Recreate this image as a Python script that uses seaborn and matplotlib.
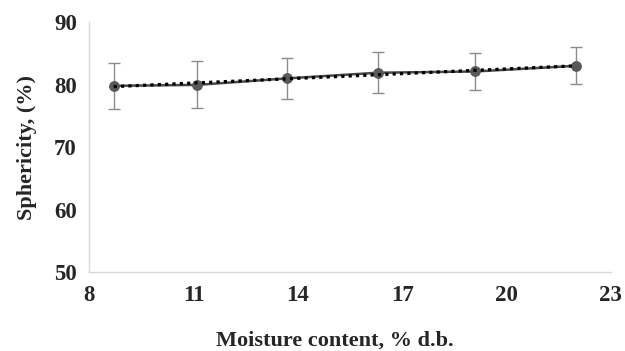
import numpy as np
import pandas as pd
import matplotlib
matplotlib.use('Agg')
import matplotlib.pyplot as plt
import seaborn as sns

# values
moisture = [8.7, 11.1, 13.7, 16.3, 19.1, 22.0]
sphericity = [79.8, 79.95, 81.0, 81.9, 82.1, 83.0]
sd = [3.7, 3.75, 3.25, 3.3, 3.0, 2.95]

df = pd.DataFrame({'moisture': moisture, 'sphericity': sphericity, 'sd': sd})

sns.set_style('white')
plt.rcParams['font.family'] = ['Liberation Serif', 'DejaVu Serif']
plt.rcParams['font.weight'] = 'bold'

fig, ax = plt.subplots(figsize=(6.25, 3.51), dpi=100)
fig.subplots_adjust(left=0.143, right=0.977, bottom=0.225, top=0.937)

ax.errorbar(df.moisture, df.sphericity, yerr=df.sd, fmt='none',
            ecolor='#8c8c8c', elinewidth=1, capsize=4, capthick=1, zorder=2)
sns.lineplot(data=df, x='moisture', y='sphericity', ax=ax, color='#4a4a4a',
             linewidth=1.8, marker='o', markersize=7, markerfacecolor='#595959',
             markeredgecolor='#595959', zorder=3)

# linear trendline (dotted)
k, b = np.polyfit(df.moisture, df.sphericity, 1)
xs = np.array([df.moisture.min(), df.moisture.max()])
ax.plot(xs, k * xs + b, color='black', linestyle=(0, (1, 1.3)), linewidth=2.3, zorder=4)

ax.set_xlim(8, 23)
ax.set_ylim(50, 90)
ax.set_xticks([8, 11, 14, 17, 20, 23])
ax.set_yticks([50, 60, 70, 80, 90])
ax.tick_params(axis='both', length=0, labelsize=16.5, pad=9)
for lab in ax.get_xticklabels() + ax.get_yticklabels():
    lab.set_fontweight('bold')

ax.set_xlabel('Moisture content, % d.b.', fontsize=16, fontweight='bold')
ax.xaxis.set_label_coords(0.47, -0.235)
ax.set_ylabel('Sphericity, (%)', fontsize=16, fontweight='bold', labelpad=12)

for side in ['top', 'right']:
    ax.spines[side].set_visible(False)
for side in ['left', 'bottom']:
    ax.spines[side].set_color('#d9d9d9')
    ax.spines[side].set_linewidth(1)

fig.savefig('out.png', dpi=100)
